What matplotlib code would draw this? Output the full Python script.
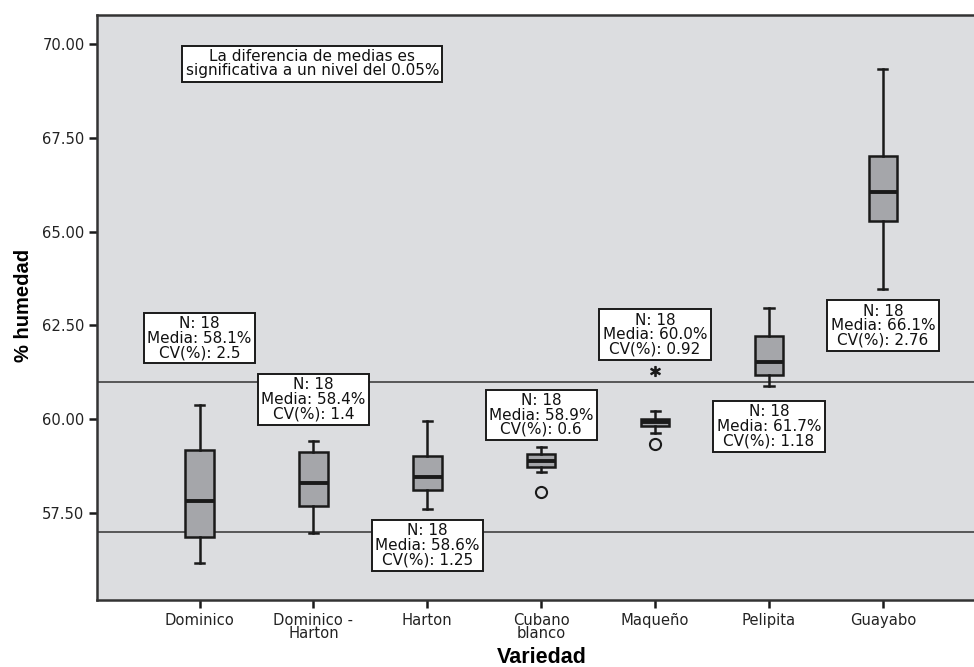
import matplotlib
matplotlib.use("Agg")
import matplotlib.pyplot as plt

plt.rcParams["font.family"] = ["DejaVu Sans"]

# ── Data ────────────────────────────────────────────────────────────────────
variedades = ["Dominico", "Dominico -\nHarton", "Harton", "Cubano\nblanco",
              "Maqueño", "Pelipita", "Guayabo"]
whislo = [56.16, 56.96, 57.60, 58.59, 59.62, 60.89, 63.46]
q1     = [56.87, 57.69, 58.11, 58.73, 59.83, 61.17, 65.27]
med    = [57.82, 58.31, 58.45, 58.89, 59.92, 61.53, 66.05]
q3     = [59.18, 59.12, 59.03, 59.07, 60.01, 62.21, 67.02]
whishi = [60.37, 59.43, 59.95, 59.26, 60.22, 62.96, 69.33]
outliers = [[], [], [], [58.07], [59.33], [], []]
extremos = [[], [], [], [], [61.29], [], []]

n_obs  = [18, 18, 18, 18, 18, 18, 18]
medias = ["58.1", "58.4", "58.6", "58.9", "60.0", "61.7", "66.1"]
cv     = ["2.5", "1.4", "1.25", "0.6", "0.92", "1.18", "2.76"]
# label box centres (data coords)
label_y = [62.16, 60.53, 56.64, 60.11, 62.25, 59.81, 62.49]

ref_lines = [61.0, 57.0]
nota = "La diferencia de medias es\nsignificativa a un nivel del 0.05%"

# ── Figure ───────────────────────────────────────────────────────────────────
fig = plt.figure(figsize=(9.74, 6.67), dpi=100)
ax = fig.add_axes([0.0996, 0.1004, 0.9004, 0.8771])
ax.set_facecolor("#dcdde0")

stats = []
for i in range(len(variedades)):
    stats.append(dict(whislo=whislo[i], q1=q1[i], med=med[i], q3=q3[i],
                      whishi=whishi[i], fliers=outliers[i], label=variedades[i]))
pos = list(range(1, len(variedades) + 1))

ax.bxp(stats, positions=pos, widths=0.25, patch_artist=True,
       boxprops=dict(facecolor="#a5a6aa", edgecolor="#1a1a1a", linewidth=1.8),
       medianprops=dict(color="#1a1a1a", linewidth=2.8),
       whiskerprops=dict(color="#1a1a1a", linewidth=1.8),
       capprops=dict(color="#1a1a1a", linewidth=1.8),
       capwidths=0.08,
       flierprops=dict(marker="o", markersize=8, markerfacecolor="none",
                       markeredgecolor="#1a1a1a", markeredgewidth=1.5))

for p, ext in zip(pos, extremos):
    if ext:
        ax.plot([p] * len(ext), ext, linestyle="none", marker="$*$",
                markersize=7, color="#1a1a1a")

for y in ref_lines:
    ax.axhline(y, color="#333333", linewidth=1.1, zorder=1)

for p, n, m, c, ly in zip(pos, n_obs, medias, cv, label_y):
    ax.text(p, ly, f"N: {n}\nMedia: {m}%\nCV(%): {c}", ha="center", va="center",
            fontsize=11, linespacing=0.95, color="#111111",
            bbox=dict(boxstyle="square,pad=0.22", facecolor="white",
                      edgecolor="#1a1a1a", linewidth=1.4))

ax.text(1.99, 69.47, nota, ha="center", va="center", fontsize=11,
        linespacing=0.95, color="#111111",
        bbox=dict(boxstyle="square,pad=0.22", facecolor="white",
                  edgecolor="#1a1a1a", linewidth=1.4))

ax.set_xlim(0.1, 7.8)
ax.set_ylim(55.18, 70.77)
ax.set_yticks([57.5, 60.0, 62.5, 65.0, 67.5, 70.0])
ax.set_yticklabels([f"{v:.2f}" for v in [57.5, 60.0, 62.5, 65.0, 67.5, 70.0]])
ax.set_xticks(pos)
ax.set_xticklabels(variedades, linespacing=0.9)
ax.tick_params(axis="both", direction="out", length=6, width=1.8,
               color="#1a1a1a", labelsize=10.6, labelcolor="#222222", pad=3)

for side in ["left", "bottom", "top"]:
    ax.spines[side].set_color("#333333")
    ax.spines[side].set_linewidth(1.8)
ax.spines["right"].set_visible(False)

ax.set_ylabel("% humedad", fontsize=14.5, fontweight="bold",
              family="Liberation Sans")
ax.yaxis.set_label_coords(-0.073, 0.503)
ax.set_xlabel("Variedad", fontsize=15.5, fontweight="bold",
              family="Liberation Sans")
ax.xaxis.set_label_coords(0.507, -0.080)

fig.savefig("out.png", dpi=100, facecolor="white")
